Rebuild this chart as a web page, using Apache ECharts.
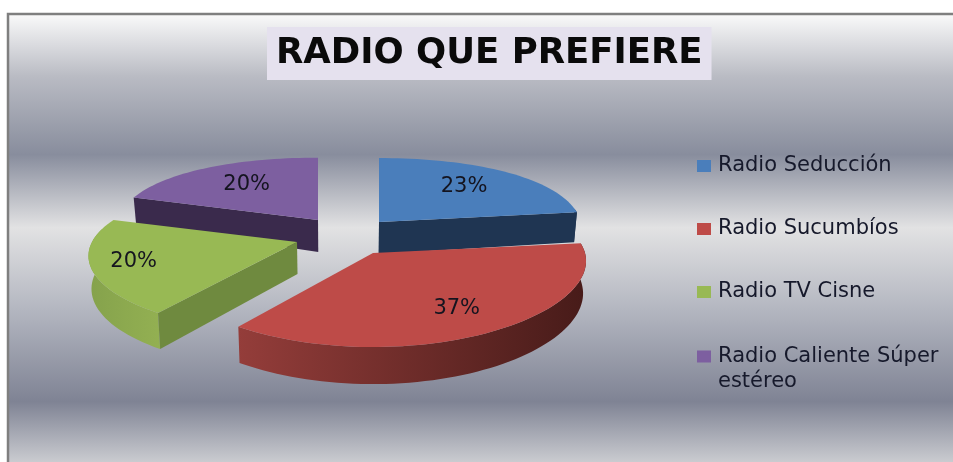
<!DOCTYPE html>
<html>
<head>
<meta charset="utf-8">
<title>Radio que prefiere</title>
<script src="https://cdn.jsdelivr.net/npm/echarts@6/dist/echarts.min.js"></script>
<style>
  html, body { margin: 0; padding: 0; background: #fff; }
  #chart { width: 953px; height: 462px; }
</style>
</head>
<body>
<div id="chart"></div>
<script>
const titleText = 'RADIO QUE PREFIERE'
const categories = ['Radio Seducción', 'Radio Sucumbíos', 'Radio TV Cisne', 'Radio Caliente Súper estéreo']
const percentages = [23, 37, 20, 20]

const topColors = ['#4a7ebb', '#be4b48', '#98b954', '#7d5fa0']
const faceColors = ['#1f3552', '#6e2e2c', '#6f8a3f', '#3a2a4c']
const wallColors = [
  ['#1f3552', '#1f3552'],
  ['#943d3a', '#471b19'],
  ['#85a24c', '#93b052'],
  ['#3a2a4c', '#3a2a4c'],
]

// exploded 3d pie: where each slice sits on the page (apex, radii, x perspective)
const sliceLayout = [
  { x: 379, y: 222, rx: 202, ry: 79, kx: 0.1, label: 0.67, z: 1 },
  { x: 373, y: 253, rx: 212, ry: 79, kx: 0.1, label: 0.73, z: 3 },
  { x: 297, y: 242, rx: 205, ry: 76, kx: 0.19, label: 0.8, z: 2 },
  { x: 318, y: 220, rx: 200, ry: 77, kx: 0.1, label: 0.64, z: 1 },
]
const PERSPECTIVE_Y = 0.19
const DEPTH = 32
const LABEL_FONT = 'DejaVu Sans'

const total = percentages.reduce((a, b) => a + b, 0)

function sliceAngles(index) {
  const before = percentages.slice(0, index).reduce((a, b) => a + b, 0)
  return [before / total * 360, (before + percentages[index]) / total * 360]
}

// angle is clockwise from 12 o'clock, frac is the distance along the radius
function project(s, angle, frac) {
  const rad = angle * Math.PI / 180
  const u = Math.sin(rad) * frac
  const v = -Math.cos(rad) * frac
  return [
    s.x + s.rx * u * (1 + s.kx * v),
    s.y + s.ry * v * (1 + PERSPECTIVE_Y * v),
  ]
}

// the same rim point on the lower face of the slice
function lower(point, angle, frac) {
  const v = -Math.cos(angle * Math.PI / 180) * frac
  const depth = DEPTH * (1 + (v < 0 ? 0.5 : 0.16) * v)
  return [340 + (point[0] - 340) * 0.988, point[1] + depth]
}

function arcAngles(from, to) {
  const list = []
  for (let a = from; a < to; a += 2) list.push(a)
  list.push(to)
  return list
}

function sidePolygon(s, angle, color) {
  const apex = project(s, angle, 0)
  const rim = project(s, angle, 1)
  return {
    type: 'polygon',
    shape: { points: [apex, rim, lower(rim, angle, 1), lower(apex, angle, 0)] },
    style: { fill: color },
  }
}

function renderSlice(index) {
  return function (params, api) {
    const s = sliceLayout[index]
    const [start, end] = sliceAngles(index)
    const children = []

    // outer wall, only the part that faces the viewer
    const wallFrom = Math.max(start, 80)
    const wallTo = Math.min(end, 280)
    if (wallTo > wallFrom) {
      const rim = arcAngles(wallFrom, wallTo)
      const upper = rim.map((a) => project(s, a, 1))
      const under = rim.map((a) => lower(project(s, a, 1), a, 1)).reverse()
      children.push({
        type: 'polygon',
        shape: { points: upper.concat(under) },
        style: {
          fill: new echarts.graphic.LinearGradient(0, 0, 1, 0, [
            { offset: 0, color: wallColors[index][0] },
            { offset: 1, color: wallColors[index][1] },
          ]),
        },
      })
    }

    // cut faces
    if (Math.sin(start * Math.PI / 180) < -0.001) children.push(sidePolygon(s, start, faceColors[index]))
    if (Math.sin(end * Math.PI / 180) > 0.001) children.push(sidePolygon(s, end, faceColors[index]))

    // top face
    const top = [project(s, start, 0)].concat(arcAngles(start, end).map((a) => project(s, a, 1)))
    children.push({ type: 'polygon', shape: { points: top }, style: { fill: topColors[index] } })

    const mid = (start + end) / 2
    const labelPos = project(s, mid, s.label)
    children.push({
      type: 'text',
      style: {
        x: labelPos[0],
        y: labelPos[1],
        text: api.value(0) + '%',
        fill: '#14141f',
        font: '21px "' + LABEL_FONT + '"',
        align: 'center',
        verticalAlign: 'middle',
      },
      z2: 10,
    })

    return { type: 'group', children: children.map((c) => ({ ...c, z2: (c.z2 || 0) + s.z * 20 })) }
  }
}

const chart = echarts.init(document.getElementById('chart'))

const legendBase = {
  orient: 'vertical',
  left: 697,
  padding: 0,
  icon: 'rect',
  itemWidth: 14,
  itemHeight: 12,
  itemGap: 35,
  selectedMode: false,
  textStyle: { fontFamily: LABEL_FONT, fontSize: 21, color: '#16192b', lineHeight: 25, padding: [3, 0, 0, 2] },
}

chart.setOption({
  animation: false,
  title: {
    text: titleText,
    left: 267,
    top: 27,
    padding: [6, 9, 6, 9],
    backgroundColor: '#e5e1ee',
    textStyle: { fontFamily: 'DejaVu Sans', fontWeight: 'bold', fontSize: 35.5, color: '#0a0a0a', lineHeight: 41 },
  },
  legend: [
    { ...legendBase, top: 152, data: categories.slice(0, 3) },
    {
      ...legendBase,
      top: 317.5,
      data: categories.slice(3),
      formatter: () => '\nRadio Caliente Súper\nestéreo',
    },
  ],
  graphic: [
    {
      type: 'rect',
      z: -10,
      silent: true,
      shape: { x: 8, y: 14, width: 950, height: 455 },
      style: {
        stroke: '#7f7f7f',
        lineWidth: 2.5,
        fill: new echarts.graphic.LinearGradient(0, 0, 0, 1, [
          { offset: 0, color: '#fbfbfb' },
          { offset: 0.14, color: '#b9bbc3' },
          { offset: 0.31, color: '#888d9d' },
          { offset: 0.47, color: '#e2e2e3' },
          { offset: 0.65, color: '#b3b6c0' },
          { offset: 0.85, color: '#7f8394' },
          { offset: 1, color: '#d4d5d8' },
        ]),
      },
    },
  ],
  series: categories.map((name, i) => ({
    type: 'custom',
    name,
    coordinateSystem: 'none',
    itemStyle: { color: topColors[i] },
    renderItem: renderSlice(i),
    data: [[percentages[i]]],
  })),
})

window.addEventListener('resize', () => chart.resize())
</script>
</body>
</html>
